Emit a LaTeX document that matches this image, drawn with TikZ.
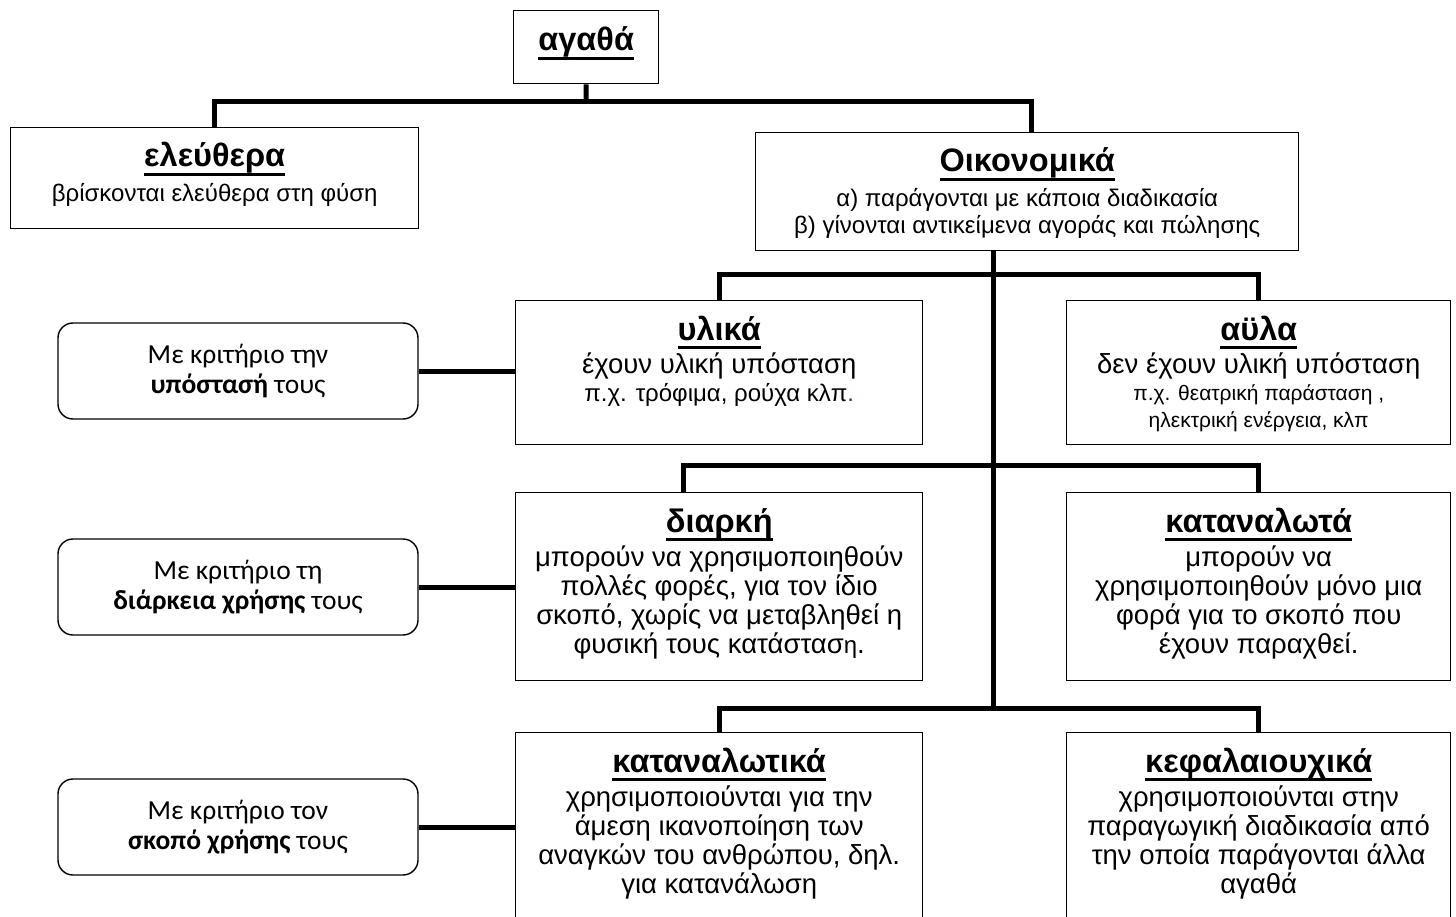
\documentclass[tikz,border=0pt]{standalone}
\usepackage{fontspec}
\setmainfont{Liberation Sans}
\newfontfamily\calfont{Carlito}
\usetikzlibrary{calc}
\definecolor{dotblue}{RGB}{31,56,130}
\newcommand{\ttlul}[1]{\setbox0\hbox{#1}\rlap{\rule[-9pt]{\wd0}{3pt}}\box0}
\newcommand{\smalltxt}{\fontsize{21}{27}\selectfont}
\newcommand{\midtxt}{\fontsize{24}{28}\selectfont}
\newcommand{\firstline}{\rule{0pt}{20pt}}
\newcommand{\firstlineL}{\rule{0pt}{22pt}}
\begin{document}
\begin{tikzpicture}[x=1pt,y=-1pt,
 box/.style={draw, line width=1.4pt, inner sep=0, anchor=north west},
 crit/.style={draw, line width=1.4pt, rounded corners=15pt, inner sep=0, align=center, font=\calfont\fontsize{27.5}{30}\selectfont},
 conn/.style={line width=5pt},
 ttl/.style={anchor=base, inner sep=0, font=\fontsize{32.5}{36}\selectfont\bfseries},
 bodytxt/.style={anchor=north, inner sep=0, align=center, font=\fontsize{24}{27.6}\selectfont},
 bodyL/.style={anchor=north, inner sep=0, align=center, font=\fontsize{27.5}{29}\selectfont},
]
\path[use as bounding box] (0,0) rectangle (1456,917);
\clip (0,0) rectangle (1456,917);
\fill[white] (0,0) rectangle (1456,917);

% boxes
\node[box, minimum width=145pt, minimum height=73pt] (agatha) at (513,10) {};
\node[box, minimum width=408pt, minimum height=101pt] (elef) at (10,127) {};
\node[box, minimum width=543pt, minimum height=118pt] (oikon) at (755,132) {};
\node[box, minimum width=407pt, minimum height=144pt] (ylika) at (515,300) {};
\node[box, minimum width=384pt, minimum height=144pt] (ayla) at (1066,300) {};
\node[box, minimum width=407pt, minimum height=188pt] (diark) at (515,492) {};
\node[box, minimum width=384pt, minimum height=188pt] (katw) at (1066,492) {};
\node[box, minimum width=407pt, minimum height=230pt] (katk) at (515,732) {};
\node[box, minimum width=384pt, minimum height=230pt] (kefa) at (1066,732) {};

% criteria boxes
\node[crit, minimum width=360pt, minimum height=96pt] (c1) at (238,371) {Με κριτήριο την\\\textbf{υπόστασή} τους};
\node[crit, minimum width=360pt, minimum height=96pt] (c2) at (238,587) {Με κριτήριο τη\\ \textbf{διάρκεια χρήσης} τους};
\node[crit, minimum width=360pt, minimum height=96pt] (c3) at (238,827) {Με κριτήριο τον\\\textbf{σκοπό χρήσης} τους};

% titles
\node[ttl] (agathaT) at ($(agatha.north)+(0,41)$) {\ttlul{αγαθά}};
\node[ttl] (elefT) at ($(elef.north)+(0,40)$) {\ttlul{ελεύθερα}};
\node[ttl] (oikonT) at ($(oikon.north)+(0,40)$) {\ttlul{Οικονομικά}};
\node[ttl] (ylikaT) at ($(ylika.north)+(0,40)$) {\ttlul{υλικά}};
\node[ttl] (aylaT) at ($(ayla.north)+(0,40)$) {\ttlul{αϋλα}};
\node[ttl] (diarkT) at ($(diark.north)+(0,40)$) {\ttlul{διαρκή}};
\node[ttl] (katwT) at ($(katw.north)+(0,40)$) {\ttlul{καταναλωτά}};
\node[ttl] (katkT) at ($(katk.north)+(0,40)$) {\ttlul{καταναλωτικά}};
\node[ttl] (kefaT) at ($(kefa.north)+(0,40)$) {\ttlul{κεφαλαιουχικά}};

% bodies
\node[bodytxt] (elefB) at ($(elef.north)+(0,54)$) {\firstline βρίσκονται ελεύθερα στη φύση};
\node[bodytxt] (oikonB) at ($(oikon.north)+(0,54)$) {\firstline α) παράγονται με κάποια διαδικασία\\β) γίνονται αντικείμενα αγοράς και πώλησης};
\node[bodyL] (ylikaB) at ($(ylika.north)+(0,51)$) {\firstlineL έχουν υλική υπόσταση\\[-1pt]{\midtxt π.χ. τρόφιμα, ρούχα κλπ\textcolor{dotblue}{.}}};
\node[bodyL] (aylaB) at ($(ayla.north)+(0,51)$) {\firstlineL δεν έχουν υλική υπόσταση\\[-2pt]{\smalltxt π.χ. θεατρική παράσταση ,}\\[-2pt]{\smalltxt ηλεκτρική ενέργεια, κλπ}};
\node[bodyL] (diarkB) at ($(diark.north)+(0,52)$) {\firstlineL μπορούν να χρησιμοποιηθούν\\πολλές φορές, για τον ίδιο\\σκοπό, χωρίς να μεταβληθεί η\\φυσική τους κατάστασ{\midtxt η}.};
\node[bodyL] (katwB) at ($(katw.north)+(0,52)$) {\firstlineL μπορούν να\\χρησιμοποιηθούν μόνο μια\\φορά για το σκοπό που\\έχουν παραχθεί.};
\node[bodyL] (katkB) at ($(katk.north)+(0,52)$) {\firstlineL χρησιμοποιούνται για την\\άμεση ικανοποίηση των\\αναγκών του ανθρώπου, δηλ.\\για κατανάλωση};
\node[bodyL] (kefaB) at ($(kefa.north)+(0,52)$) {\firstlineL χρησιμοποιούνται στην\\παραγωγική διαδικασία από\\την οποία παράγονται άλλα\\αγαθά};

% junction coordinates
\coordinate (j1) at (586,102);
\coordinate (oin) at (1031,132);
\coordinate (tr0) at (993,250);
\coordinate (tr1) at (993,708);
\coordinate (din) at (683,492);

% connectors
\draw[conn] (agatha.south) -- (j1);
\draw[conn] (elef.north) |- (j1) -| (oin);
\draw[conn] (tr0) -- (tr1);
\draw[conn] (ylika.north) -- ++(0,-25) -| (ayla.north);
\draw[conn] (din) -- ++(0,-27) -| (katw.north);
\draw[conn] (katk.north) -- ++(0,-24) -| (kefa.north);
\draw[conn] (c1.east) -- (c1.east -| ylika.west);
\draw[conn] (c2.east) -- (c2.east -| diark.west);
\draw[conn] (c3.east) -- (c3.east -| katk.west);
\end{tikzpicture}
\end{document}
